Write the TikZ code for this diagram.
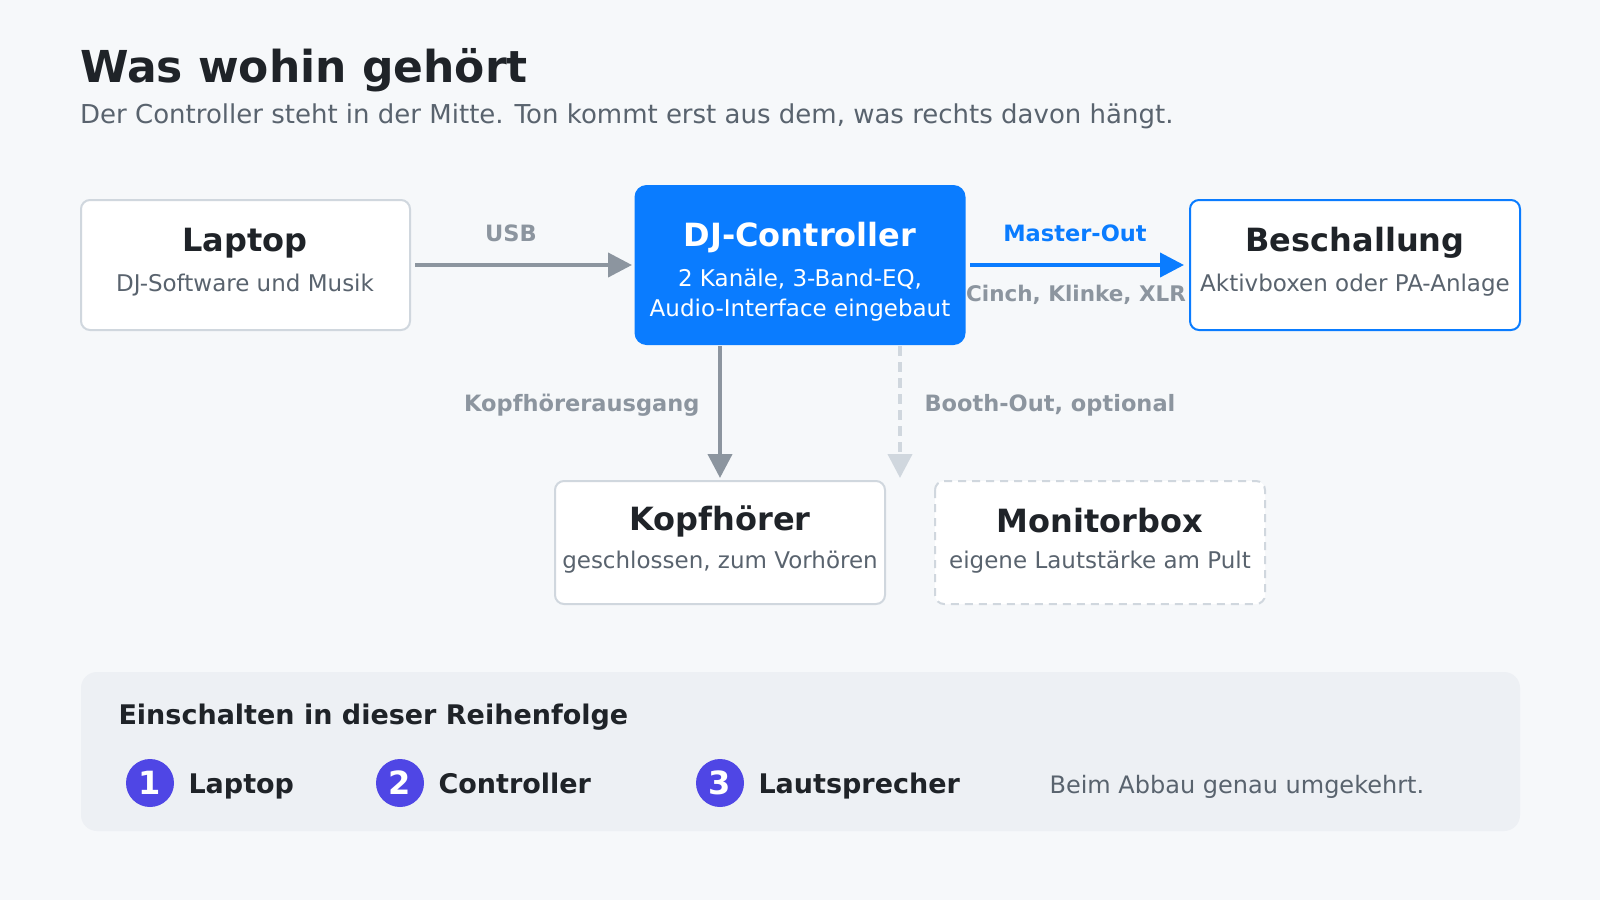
\documentclass[tikz,border=0pt]{standalone}
\usepackage{fontspec}
\setmainfont{DejaVu Sans}
\usetikzlibrary{arrows.meta}
\definecolor{bg}{HTML}{F6F8FA}
\definecolor{ink}{HTML}{1F2328}
\definecolor{sub}{HTML}{59636E}
\definecolor{gr}{HTML}{8C959F}
\definecolor{bd}{HTML}{D0D7DE}
\definecolor{blu}{HTML}{0A7CFF}
\definecolor{pan}{HTML}{EDF0F4}
\definecolor{vio}{HTML}{4F46E5}
\tikzset{
 box/.style={draw=bd,line width=2pt,fill=white,rounded corners=9pt},
 ttl/.style={font=\fontsize{32}{36}\selectfont\bfseries,text=ink},
 st/.style={font=\fontsize{23}{28}\selectfont,text=sub,align=center},
 lab/.style={font=\fontsize{22.5}{26}\selectfont\bfseries,text=gr},
 arr/.style={line width=4pt,-{Triangle[length=24pt,width=24pt]}},
 num/.style={circle,fill=vio,minimum size=48pt,inner sep=0,text=white,font=\fontsize{32}{32}\selectfont\bfseries},
 stp/.style={font=\fontsize{27}{32}\selectfont\bfseries,text=ink,anchor=base west}
}
\begin{document}
\begin{tikzpicture}[x=1pt,y=-1pt]
\fill[bg] (0,0) rectangle (1600,900);
\useasboundingbox (0,0) rectangle (1600,900);
\node[anchor=base west,font=\fontsize{44}{50}\selectfont\bfseries,text=ink,inner sep=0] (t) at (80,82) {Was wohin gehört};
\node[anchor=base west,font=\fontsize{26}{30}\selectfont,text=sub,inner sep=0] (s) at (80,123) {Der Controller steht in der Mitte. Ton kommt erst aus dem, was rechts davon hängt.};
% boxes
\draw[box] (81,200) rectangle (410,330);
\node[ttl] (lt) at (245,243) {Laptop};
\node[st] (ls) at (245,285) {DJ-Software und Musik};
\node[fill=blu,rounded corners=12pt,minimum width=331pt,minimum height=160pt] (dj) at (800,265) {};
\node[ttl,text=white] at (800,238) {DJ-Controller};
\node[st,text=white,font=\fontsize{23}{30}\selectfont] at (800,295) {2 Kanäle, 3-Band-EQ,\\Audio-Interface eingebaut};
\draw[box,draw=blu] (1190,200) rectangle (1520,330);
\node[ttl] at (1355,243) {Beschallung};
\node[st] at (1355,285) {Aktivboxen oder PA-Anlage};
\draw[box] (555,481) rectangle (885,604);
\node[ttl] at (720,521) {Kopfhörer};
\node[st] at (720,562) {geschlossen, zum Vorhören};
\draw[box,dashed,dash pattern=on 8pt off 6pt] (935,481) rectangle (1265,604);
\node[ttl] at (1100,521) {Monitorbox};
\node[st] at (1100,562) {eigene Lautstärke am Pult};
% connectors
\coordinate (a1) at (415,265); \coordinate (a2) at (632,265);
\draw[arr,gr] (a1) -- (a2);
\node[lab] at (511,233) {USB};
\coordinate (b1) at (970,265); \coordinate (b2) at (1184,265);
\draw[arr,blu] (b1) -- (b2);
\node[lab,text=blu] at (1075,233) {Master-Out};
\node[lab,font=\fontsize{21.5}{26}\selectfont\bfseries] at (1076,295) {Cinch, Klinke, XLR};
\coordinate (c1) at (720,346); \coordinate (c2) at (720,478);
\draw[arr,gr] (c1) -- (c2);
\node[lab,anchor=east] at (703,405) {Kopfhörerausgang};
\coordinate (d1) at (900,346); \coordinate (d2) at (900,478);
\draw[arr,bd,dashed,dash pattern=on 10pt off 6pt,-{Triangle[length=24pt,width=24pt]}] (d1) -- (d2);
\node[lab,anchor=west] at (921,405) {Booth-Out, optional};
% panel
\fill[pan,rounded corners=16pt] (81,672) rectangle (1520,831);
\node[anchor=west,font=\fontsize{27}{30}\selectfont\bfseries,text=ink] at (115,717) {Einschalten in dieser Reihenfolge};
\node[num] (n1) at (150,783) {1}; \node[stp] at (185,793) {Laptop};
\node[num] (n2) at (400,783) {2}; \node[stp] at (435,793) {Controller};
\node[num] (n3) at (720,783) {3}; \node[stp] at (755,793) {Lautsprecher};
\node[anchor=base west,font=\fontsize{24}{28}\selectfont,text=sub] at (1046,793) {Beim Abbau genau umgekehrt.};
\end{tikzpicture}
\end{document}
